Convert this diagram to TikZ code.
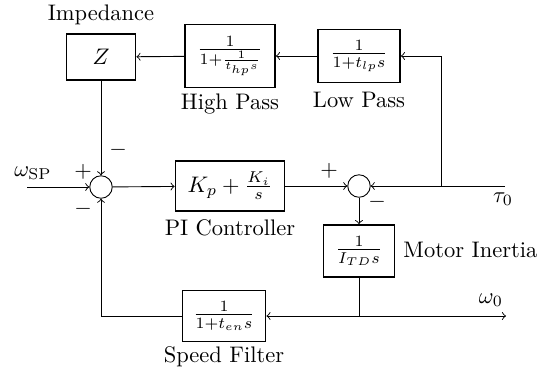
\documentclass[tikz,border=0pt]{standalone}
\usetikzlibrary{positioning}
\begin{document}
\begin{tikzpicture}[x=0.4444pt,y=-0.4444pt,
  blk/.style={draw,thick,inner sep=1pt},
  sumc/.style={draw,circle,minimum size=10pt,inner sep=0pt},
  lbl/.style={inner sep=0pt},
  conn/.style={draw,->}]
\useasboundingbox (0,0) rectangle (538,375);
\node[blk,minimum width=30.7pt,minimum height=20.4pt] (z) at (101,57) {$Z$};
\node[lbl] (zl) at (101,15) {Impedance};
\node[blk,minimum width=40pt,minimum height=28pt] (hp) at (230,56) {$\frac{1}{1+\frac{1}{t_{hp}s}}$};
\node[lbl] (hpl) at (230,104) {High Pass};
\node[blk,minimum width=36.4pt,minimum height=23.6pt] (lp) at (359,56) {$\frac{1}{1+t_{lp}s}$};
\node[lbl] (lpl) at (359,100) {Low Pass};
\node[sumc] (s1) at (101,187) {};
\node[blk,minimum width=48.4pt,minimum height=22.2pt] (pi) at (230,186) {$K_p+\frac{K_i}{s}$};
\node[lbl] (pil) at (230,228) {PI Controller};
\node[sumc] (s2) at (359,186) {};
\node[blk,minimum width=31.6pt,minimum height=23.1pt] (mi) at (359,251) {$\frac{1}{I_{TD}s}$};
\node[lbl,anchor=west] (mil) at (403,250) {Motor Inertia};
\node[blk,minimum width=36.9pt,minimum height=22.7pt] (sf) at (224,316) {$\frac{1}{1+t_{en}s}$};
\node[lbl] (sfl) at (224,357) {Speed Filter};
\node[lbl] (wsp) at (33,173) {$\omega_{\mathrm{SP}}$};
\node[lbl] (tau) at (503,199) {$\tau_0$};
\node[lbl] (w0) at (491,300) {$\omega_0$};
\node[lbl] (p1) at (83,172) {$+$};
\node[lbl] (m1) at (118,150) {$-$};
\node[lbl] (m2) at (83,209) {$-$};
\node[lbl] (p2) at (329,171) {$+$};
\node[lbl] (m3) at (377,202) {$-$};
\coordinate (in) at (27,187);
\coordinate (tin) at (505,186);
\coordinate (split) at (441,186);
\coordinate (up) at (441,56);
\coordinate (msplit) at (359,316);
\coordinate (wout) at (506,316);
\coordinate (fbl) at (101,316);
\draw[->] (in) -- (s1);
\draw[->] (z) -- (s1);
\draw[->] (s1) -- (pi);
\draw[->] (pi) -- (s2);
\draw[->] (tin) -- (s2);
\draw[->] (split) -- (up) -- (lp);
\draw[->] (lp) -- (hp);
\draw[->] (hp) -- (z);
\draw[->] (s2) -- (mi);
\draw (mi) -- (msplit);
\draw[->] (msplit) -- (sf);
\draw[->] (msplit) -- (wout);
\draw[->] (sf) -- (fbl) -- (s1);
\end{tikzpicture}
\end{document}
